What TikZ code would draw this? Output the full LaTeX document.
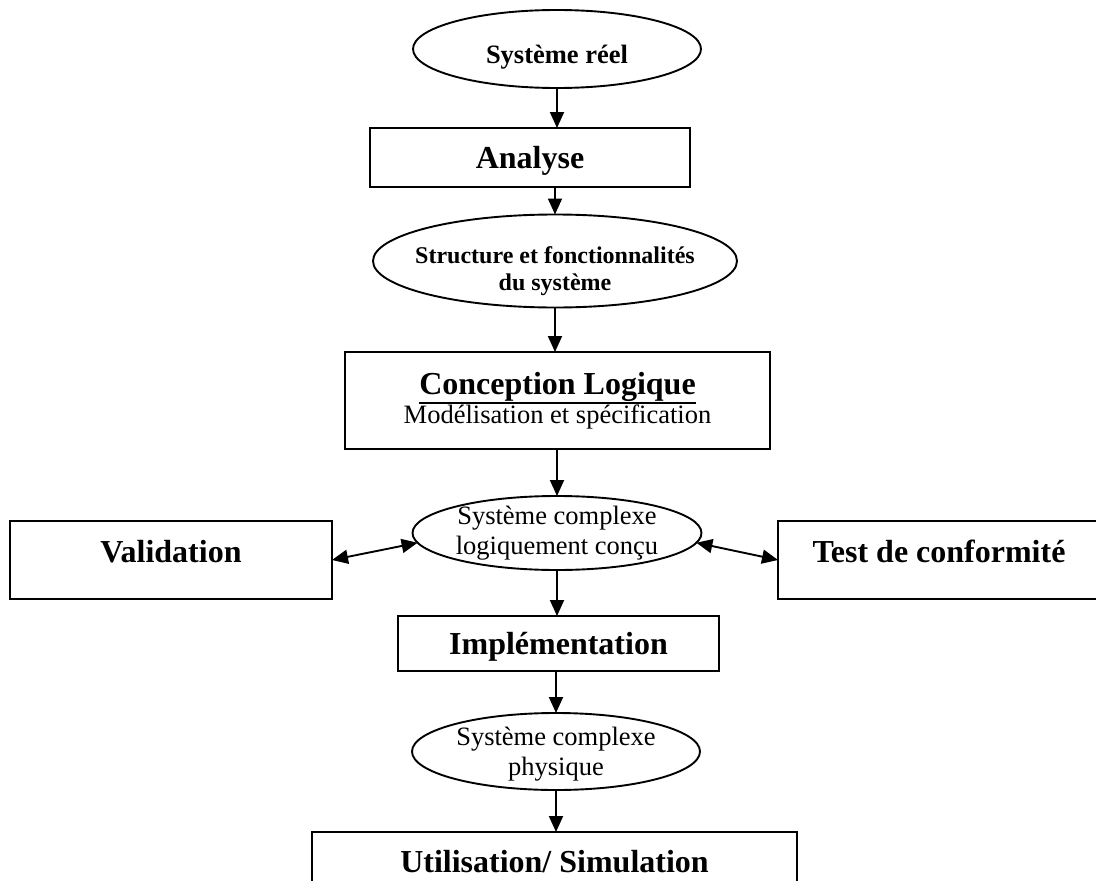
\documentclass[tikz,border=0pt]{standalone}
\usepackage{fontspec}
\setmainfont{Liberation Serif}
\usetikzlibrary{shapes.geometric, arrows.meta}
\newsavebox{\ulbox}
\newcommand{\ulbar}[1]{\sbox\ulbox{#1}\rlap{\rule[-10pt]{\wd\ulbox}{2pt}}\usebox\ulbox}

\begin{document}
\begin{tikzpicture}[x=1pt, y=-1pt,
    every node/.style={inner sep=0pt, outer sep=0pt},
    box/.style={draw, line width=1.9pt},
    proc/.style={box, font=\fontsize{32}{36}\selectfont\bfseries,
                 text height=22pt, text depth=0pt},
    oval/.style={draw, line width=1.9pt, ellipse},
    ovaltxt/.style={font=\fontsize{26.5}{30}\selectfont, align=center},
    arr/.style={-{Triangle[length=16pt, width=14pt]}, line width=1.9pt},
    darr/.style={{Triangle[length=16pt, width=14pt]}-{Triangle[length=16pt, width=14pt]},
                 line width=1.9pt},
  ]
  \useasboundingbox (0,0) rectangle (1096,881);
  \clip (0,0) rectangle (1096,881);
  % Top: real system, analysis
  \node[oval, minimum width=288pt, minimum height=78pt] (sr) at (557, 49) {};
  \node[ovaltxt, font=\fontsize{26.5}{30}\selectfont\bfseries, anchor=base] (sr-t)
    at (557, 63) {Système réel};
  \node[proc, minimum width=320pt, minimum height=59pt] (an) at (530, 157.5) {Analyse};
  \draw[arr] (sr.south) -- (sr.south |- an.north);
  % Structure and logical design
  \node[oval, minimum width=364pt, minimum height=93pt] (sfs) at (555, 261) {};
  \node[ovaltxt, font=\fontsize{24}{27}\selectfont\bfseries] (sfs-t)
    at (555, 271) {Structure et fonctionnalités\\du système};
  \draw[arr] (sfs.north |- an.south) -- (sfs.north);
  \node[box, align=center, font=\fontsize{26.5}{29}\selectfont,
        minimum width=425pt, minimum height=97pt] (cl) at (557.5, 400.5)
    {{\fontsize{32}{29}\selectfont\bfseries\ulbar{Conception Logique}}\\
     Modélisation et spécification};
  \draw[arr] (sfs.south) -- (sfs.south |- cl.north);
  % Middle row: validation / test
  \node[oval, minimum width=289pt, minimum height=74pt] (mid) at (557, 533) {};
  \node[ovaltxt] (mid-t) at (557, 533) {Système complexe\\logiquement conçu};
  \draw[arr] (mid.north |- cl.south) -- (mid.north);
  \node[proc, text depth=18pt, minimum width=322pt, minimum height=78pt] (val)
    at (171, 560) {Validation};
  \node[proc, text depth=18pt, minimum width=322pt, minimum height=78pt] (tc)
    at (939, 560) {Test de conformité};
  \draw[darr] (val.east) -- (mid.184);
  \draw[darr] (mid.356) -- (tc.west);
  % Bottom: implementation, physical system, use
  \node[proc, minimum width=321pt, minimum height=55pt] (im) at (558.5, 643.5) {Implémentation};
  \draw[arr] (mid.south) -- (mid.south |- im.north);
  \node[oval, minimum width=288pt, minimum height=77pt] (phy) at (556, 751.5) {};
  \node[ovaltxt] (phy-t) at (556, 754) {Système complexe\\physique};
  \draw[arr] (phy.north |- im.south) -- (phy.north);
  \node[proc, text depth=22pt, minimum width=485pt, minimum height=80pt] (ut)
    at (554.5, 872) {Utilisation/ Simulation};
  \draw[arr] (phy.south) -- (phy.south |- ut.north);
\end{tikzpicture}
\end{document}
